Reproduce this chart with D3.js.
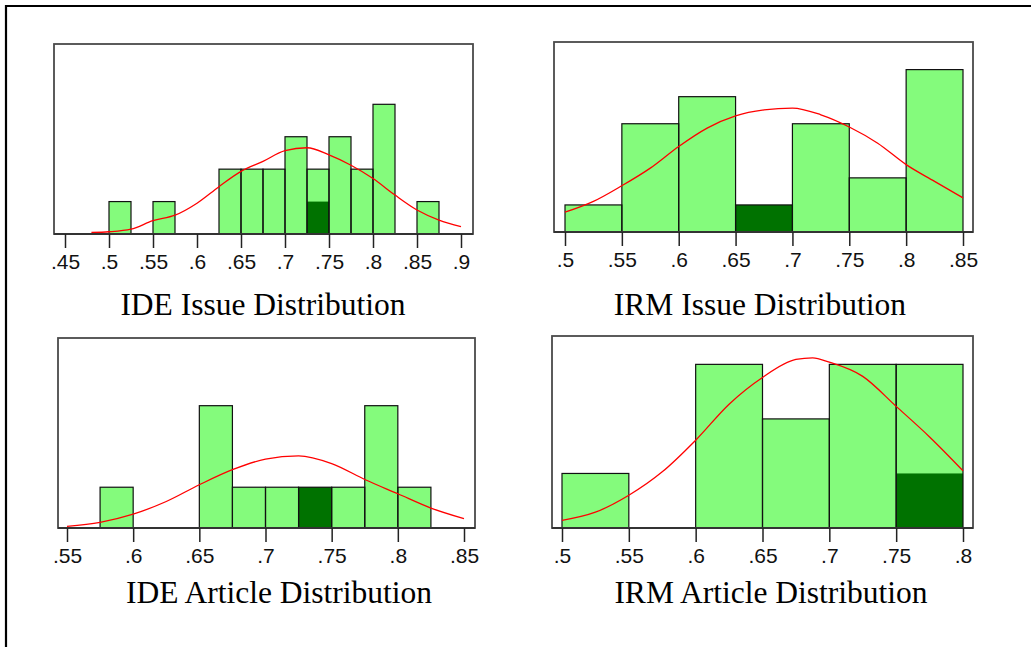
<!DOCTYPE html>
<html><head><meta charset="utf-8">
<script src="https://cdn.jsdelivr.net/npm/d3@7"></script>
<style>html,body{margin:0;padding:0;background:#fff;}svg{display:block;}</style>
</head><body>
<svg id="chart" width="1031" height="647"></svg>
<script>
// ---- Data ----
// IDE Issue Distribution (bin width .025)
const ideIssueBinStarts = [0.5, 0.55, 0.625, 0.65, 0.675, 0.7, 0.725, 0.75, 0.775, 0.8, 0.85];
const ideIssueCounts    = [1, 1, 2, 2, 2, 3, 2, 3, 2, 4, 1];
const ideIssueHighlight = [0, 0, 0, 0, 0, 0, 1, 0, 0, 0, 0];
const ideIssueCurveX = [0.48, 0.5, 0.525, 0.55, 0.575, 0.6, 0.625, 0.65, 0.675, 0.7, 0.725, 0.75, 0.775, 0.8, 0.825, 0.85, 0.875, 0.9];
const ideIssueCurveY = [0.05, 0.07, 0.15, 0.41, 0.58, 0.95, 1.46, 1.93, 2.24, 2.57, 2.66, 2.44, 2.12, 1.71, 1.20, 0.74, 0.43, 0.23];
const ideIssueTicks = [0.45, 0.5, 0.55, 0.6, 0.65, 0.7, 0.75, 0.8, 0.85, 0.9];
const ideIssueTickLabels = [".45", ".5", ".55", ".6", ".65", ".7", ".75", ".8", ".85", ".9"];

// IRM Issue Distribution (bin width .05)
const irmIssueBinStarts = [0.5, 0.55, 0.6, 0.65, 0.7, 0.75, 0.8];
const irmIssueCounts    = [1, 4, 5, 1, 4, 2, 6];
const irmIssueHighlight = [0, 0, 0, 1, 0, 0, 0];
const irmIssueCurveX = [0.5, 0.525, 0.55, 0.575, 0.6, 0.625, 0.65, 0.675, 0.7, 0.725, 0.75, 0.775, 0.8, 0.825, 0.85];
const irmIssueCurveY = [0.73, 1.13, 1.71, 2.36, 3.16, 3.84, 4.29, 4.51, 4.58, 4.33, 3.88, 3.28, 2.49, 1.87, 1.26];
const irmIssueTicks = [0.5, 0.55, 0.6, 0.65, 0.7, 0.75, 0.8, 0.85];
const irmIssueTickLabels = [".5", ".55", ".6", ".65", ".7", ".75", ".8", ".85"];

// IDE Article Distribution (bin width .025)
const ideArticleBinStarts = [0.575, 0.65, 0.675, 0.7, 0.725, 0.75, 0.775, 0.8];
const ideArticleCounts    = [1, 3, 1, 1, 1, 1, 3, 1];
const ideArticleHighlight = [0, 0, 0, 0, 1, 0, 0, 0];
const ideArticleCurveX = [0.55, 0.575, 0.6, 0.625, 0.65, 0.675, 0.7, 0.725, 0.75, 0.775, 0.8, 0.825, 0.85];
const ideArticleCurveY = [0.04, 0.14, 0.34, 0.65, 1.06, 1.43, 1.69, 1.77, 1.58, 1.19, 0.84, 0.49, 0.23];
const ideArticleTicks = [0.55, 0.6, 0.65, 0.7, 0.75, 0.8, 0.85];
const ideArticleTickLabels = [".55", ".6", ".65", ".7", ".75", ".8", ".85"];

// IRM Article Distribution (bin width .05)
const irmArticleBinStarts = [0.5, 0.55, 0.6, 0.65, 0.7, 0.75];
const irmArticleCounts    = [1, 0, 3, 2, 3, 3];
const irmArticleHighlight = [0, 0, 0, 0, 0, 1];
const irmArticleCurveX = [0.5, 0.525, 0.55, 0.575, 0.6, 0.625, 0.65, 0.675, 0.6875, 0.7, 0.725, 0.75, 0.775, 0.8];
const irmArticleCurveY = [0.14, 0.29, 0.60, 1.03, 1.61, 2.27, 2.76, 3.09, 3.12, 3.04, 2.78, 2.23, 1.67, 1.05];
const irmArticleTicks = [0.5, 0.55, 0.6, 0.65, 0.7, 0.75, 0.8];
const irmArticleTickLabels = [".5", ".55", ".6", ".65", ".7", ".75", ".8"];

const titles = ["IDE Issue Distribution", "IRM Issue Distribution", "IDE Article Distribution", "IRM Article Distribution"];

// ---- Layout ----
const panels = [
  { title: titles[0], bins: ideIssueBinStarts, counts: ideIssueCounts, hi: ideIssueHighlight, bw: 0.025,
    cx: ideIssueCurveX, cy: ideIssueCurveY, ticks: ideIssueTicks, labels: ideIssueTickLabels,
    frame: [54, 44, 473, 234], xr: [65, 461], ymax: 5.86, titleX: 263, titleY: 315 },
  { title: titles[1], bins: irmIssueBinStarts, counts: irmIssueCounts, hi: irmIssueHighlight, bw: 0.05,
    cx: irmIssueCurveX, cy: irmIssueCurveY, ticks: irmIssueTicks, labels: irmIssueTickLabels,
    frame: [554, 42, 973, 232], xr: [565, 963], ymax: 7.02, titleX: 760, titleY: 315 },
  { title: titles[2], bins: ideArticleBinStarts, counts: ideArticleCounts, hi: ideArticleHighlight, bw: 0.025,
    cx: ideArticleCurveX, cy: ideArticleCurveY, ticks: ideArticleTicks, labels: ideArticleTickLabels,
    frame: [58, 338, 475, 528], xr: [67, 464], ymax: 4.66, titleX: 279, titleY: 603 },
  { title: titles[3], bins: irmArticleBinStarts, counts: irmArticleCounts, hi: irmArticleHighlight, bw: 0.05,
    cx: irmArticleCurveX, cy: irmArticleCurveY, ticks: irmArticleTicks, labels: irmArticleTickLabels,
    frame: [552, 336, 973, 528], xr: [562, 963], ymax: 3.52, titleX: 771, titleY: 603 }
];

const svg = d3.select("#chart");

// outer border (open on right/bottom as in the picture)
svg.append("path").attr("d", "M6,647 L6,6 L1031,6")
  .attr("fill", "none").attr("stroke", "#000").attr("stroke-width", 2.2);

panels.forEach(p => {
  const [fx0, fy0, fx1, fy1] = p.frame;
  const x = d3.scaleLinear().domain([p.ticks[0], p.ticks[p.ticks.length - 1]]).range(p.xr);
  const y = d3.scaleLinear().domain([0, p.ymax]).range([fy1, fy0]);
  const g = svg.append("g");

  g.append("rect").attr("x", fx0).attr("y", fy0).attr("width", fx1 - fx0).attr("height", fy1 - fy0)
    .attr("fill", "#fff").attr("stroke", "#4a4a4a").attr("stroke-width", 1.8);

  const data = p.bins.map((b, i) => ({ b, c: p.counts[i], h: p.hi[i] })).filter(d => d.c > 0);

  g.selectAll(".bar").data(data).enter().append("rect")
    .attr("x", d => x(d.b)).attr("y", d => y(d.c))
    .attr("width", d => x(d.b + p.bw) - x(d.b)).attr("height", d => y(0) - y(d.c))
    .attr("fill", "#84fb7c");

  g.selectAll(".hi").data(data.filter(d => d.h > 0)).enter().append("rect")
    .attr("x", d => x(d.b)).attr("y", d => y(d.h))
    .attr("width", d => x(d.b + p.bw) - x(d.b)).attr("height", d => y(0) - y(d.h))
    .attr("fill", "#007200");

  g.selectAll(".barline").data(data).enter().append("rect")
    .attr("x", d => x(d.b)).attr("y", d => y(d.c))
    .attr("width", d => x(d.b + p.bw) - x(d.b)).attr("height", d => y(0) - y(d.c))
    .attr("fill", "none").attr("stroke", "#111").attr("stroke-width", 1.2);

  // baseline (frame bottom)
  g.append("line").attr("x1", fx0).attr("x2", fx1).attr("y1", fy1).attr("y2", fy1)
    .attr("stroke", "#333").attr("stroke-width", 1.8);

  // normal curve
  const line = d3.line().x(d => x(d[0])).y(d => y(d[1])).curve(d3.curveMonotoneX);
  g.append("path").datum(p.cx.map((v, i) => [v, p.cy[i]]))
    .attr("d", line).attr("fill", "none").attr("stroke", "#ff0000").attr("stroke-width", 1.3);

  // axis
  const axis = d3.axisBottom(x).tickValues(p.ticks).tickSize(14).tickPadding(8)
    .tickFormat((d, i) => p.labels[i]);
  const ag = g.append("g").attr("transform", `translate(0,${fy1})`).call(axis);
  ag.select(".domain").remove();
  ag.selectAll(".tick line").attr("stroke", "#222").attr("stroke-width", 1.5);
  ag.selectAll(".tick text").attr("font-family", "'Liberation Sans', Arial, sans-serif")
    .attr("font-size", 21).attr("fill", "#111").attr("dy", "0.62em");

  svg.append("text").attr("x", p.titleX).attr("y", p.titleY).attr("text-anchor", "middle")
    .attr("font-family", "'Liberation Serif', 'Times New Roman', serif").attr("font-size", 31.5)
    .attr("fill", "#000").text(p.title);
});
</script>
</body></html>
